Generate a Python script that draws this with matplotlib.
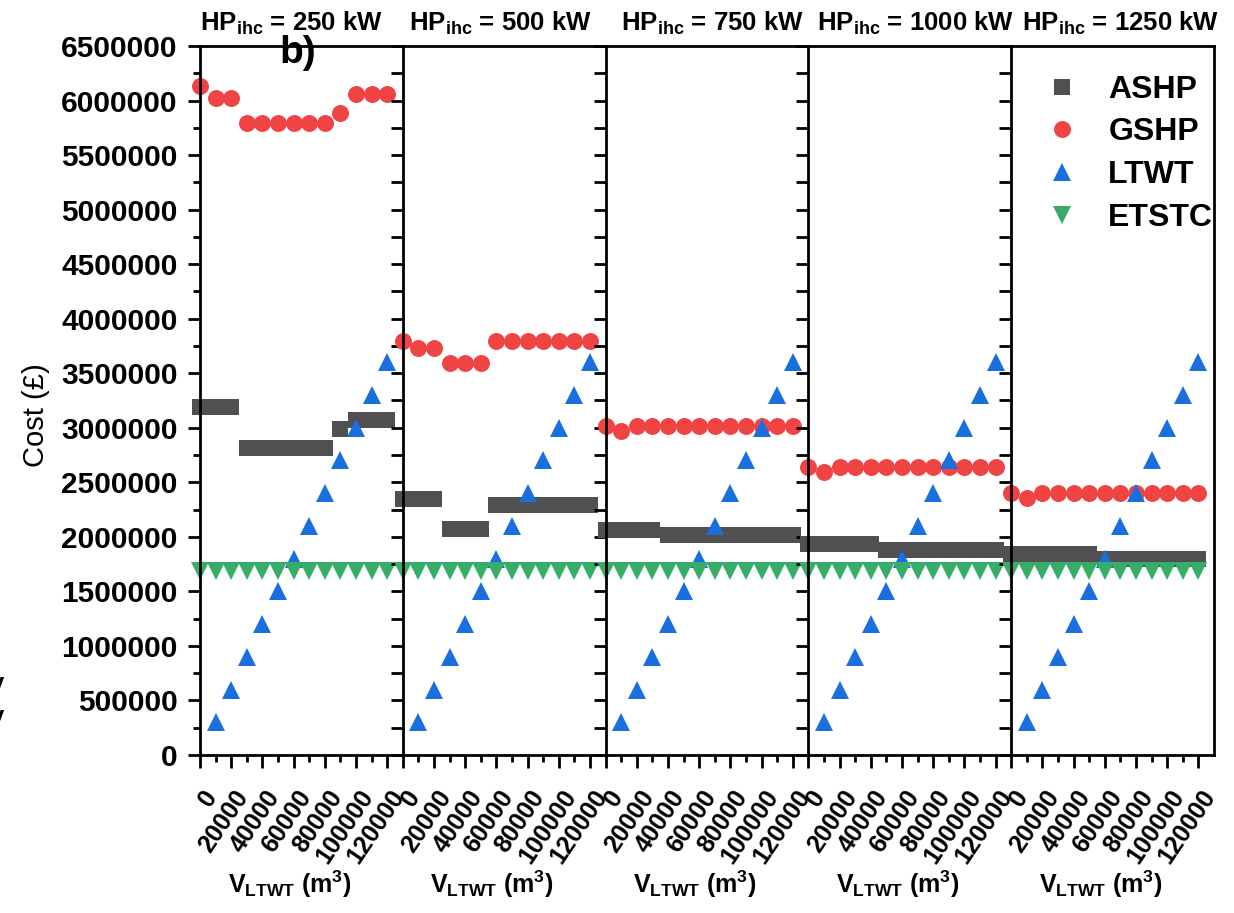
import numpy as np
import matplotlib
matplotlib.use("Agg")
import matplotlib.pyplot as plt
import matplotlib.transforms as mtransforms
from matplotlib.ticker import MultipleLocator, FixedLocator, StrMethodFormatter


plt.rcParams["font.family"] = ["Liberation Sans", "DejaVu Sans"]
plt.rcParams["mathtext.default"] = "regular"

HP_IHC = [250, 500, 750, 1000, 1250]
V_LTWT = [0, 10000, 20000, 30000, 40000, 50000, 60000, 70000, 80000, 90000, 100000, 110000, 120000]
X_TICKS = [0, 20000, 40000, 60000, 80000, 100000, 120000]

# one row per HP_ihc panel
ASHP = [
    [3190000, 3190000, 3190000, 2810000, 2810000, 2810000, 2810000, 2810000, 2810000, 2990000, 3070000, 3070000, 3070000],
    [2350000, 2350000, 2350000, 2070000, 2070000, 2070000, 2290000, 2290000, 2290000, 2290000, 2290000, 2290000, 2290000],
    [2060000, 2060000, 2060000, 2060000, 2020000, 2020000, 2020000, 2020000, 2020000, 2020000, 2020000, 2020000, 2020000],
    [1930000, 1930000, 1930000, 1930000, 1930000, 1880000, 1880000, 1880000, 1880000, 1880000, 1880000, 1880000, 1880000],
    [1845000, 1845000, 1845000, 1845000, 1845000, 1845000, 1800000, 1800000, 1800000, 1800000, 1800000, 1800000, 1800000],
]
GSHP = [
    [6130000, 6020000, 6020000, 5790000, 5790000, 5790000, 5790000, 5790000, 5790000, 5890000, 6060000, 6060000, 6060000],
    [3800000, 3730000, 3730000, 3590000, 3590000, 3590000, 3800000, 3800000, 3800000, 3800000, 3800000, 3800000, 3800000],
    [3020000, 2970000, 3020000, 3020000, 3020000, 3020000, 3020000, 3020000, 3020000, 3020000, 3020000, 3020000, 3020000],
    [2640000, 2590000, 2640000, 2640000, 2640000, 2640000, 2640000, 2640000, 2640000, 2640000, 2640000, 2640000, 2640000],
    [2400000, 2360000, 2400000, 2400000, 2400000, 2400000, 2400000, 2400000, 2400000, 2400000, 2400000, 2400000, 2400000],
]
LTWT = [np.nan, 300000, 600000, 900000, 1200000, 1500000, 1800000, 2100000, 2400000, 2700000, 3000000, 3300000, 3600000]
ETSTC = [1690000, 1690000, 1690000, 1690000, 1690000, 1690000, 1690000, 1690000, 1690000, 1690000, 1690000, 1690000, 1690000]

C_ASHP = "#505050"
C_GSHP = "#f04343"
C_LTWT = "#1a6fdf"
C_ETSTC = "#38ad69"

TITLE_SHIFT = [-10, -4, 5, 6, 8]  # px, titles are not quite centred in the original


def main():
    fig = plt.figure(figsize=(12.34, 9.13), dpi=100)
    left, right = 200 / 1234, 1214 / 1234
    bottom, top = 1 - 755 / 913, 1 - 46 / 913
    w = (right - left) / 5
    wpx = w * 1234
    shift = mtransforms.ScaledTranslation(22 / 100, 0, fig.dpi_scale_trans)

    for i, hp in enumerate(HP_IHC):
        ax = fig.add_axes([left + i * w, bottom, w, top - bottom])
        kw = dict(linestyle="none", markeredgewidth=0, clip_on=False)
        ax.plot(V_LTWT, ASHP[i], marker="s", markersize=11.5, color=C_ASHP, label="ASHP", **kw)
        ax.plot(V_LTWT, GSHP[i], marker="o", markersize=12.2, color=C_GSHP, label="GSHP", **kw)
        ax.plot(V_LTWT, LTWT, marker="^", markersize=13.5, color=C_LTWT, label="LTWT", **kw)
        ax.plot(V_LTWT, ETSTC, marker="v", markersize=13.5, color=C_ETSTC, label="ETSTC", **kw)

        ax.set_xlim(0, 130000)
        ax.set_ylim(0, 6500000)
        for s in ax.spines.values():
            s.set_linewidth(2)
        if i < 4:
            ax.spines["right"].set_visible(False)

        ax.xaxis.set_minor_locator(FixedLocator([10000, 30000, 50000, 70000, 90000, 110000]))
        ax.set_xticks(X_TICKS)
        ax.tick_params(axis="x", which="major", direction="out", length=9, width=2, pad=13)
        ax.tick_params(axis="x", which="minor", direction="out", length=5, width=2)
        ax.set_xticklabels([str(v) for v in X_TICKS], fontsize=18, fontweight="bold",
                           rotation=56, ha="right", va="top")
        for lab in ax.get_xticklabels():
            lab.set_transform(lab.get_transform() + shift)

        if i == 0:
            ax.yaxis.set_major_locator(MultipleLocator(500000))
            ax.yaxis.set_minor_locator(MultipleLocator(250000))
            ax.yaxis.set_major_formatter(StrMethodFormatter("{x:.0f}"))
            ax.tick_params(axis="y", which="major", direction="out", length=9, width=2,
                           pad=7, labelsize=21.5)
            ax.tick_params(axis="y", which="minor", direction="out", length=5, width=2)
            for lab in ax.get_yticklabels():
                lab.set_fontweight("bold")
            ax.set_ylabel("Cost (£)", fontsize=21)
            ax.yaxis.set_label_coords(-150 / wpx, (755 - 415) / 709)
        else:
            ax.yaxis.set_major_locator(MultipleLocator(250000))
            ax.tick_params(axis="y", which="major", direction="out", length=9, width=2,
                           labelleft=False)

        ax.set_title(r"HP$_{ihc}$ = %d kW" % hp, fontsize=18.5, fontweight="bold", pad=11)
        ax.title.set_x(0.5 + TITLE_SHIFT[i] / wpx)
        ax.set_xlabel(r"V$_{LTWT}$ (m$^{3}$)", fontsize=18, fontweight="bold")
        ax.xaxis.set_label_coords(0.5 - 12 / wpx, (755 - 869) / 709)

        if i == 4:
            ax.legend(loc="upper left", bbox_to_anchor=(0.172, 0.9595), frameon=False,
                      prop={"size": 23, "weight": "bold"}, borderpad=0, borderaxespad=0,
                      handlelength=1.0, handletextpad=0.95, labelspacing=0.4)

    fig.text(298 / 1234, 1 - 53 / 913, "b)", fontsize=28, fontweight="bold",
             ha="center", va="center")
    fig.text(-0.006, 1 - 692 / 913, "/", fontsize=22, fontweight="bold", style="italic",
             ha="left", va="center")
    fig.text(-0.006, 1 - 724 / 913, "/", fontsize=22, fontweight="bold", style="italic",
             ha="left", va="center")

    fig.savefig("out.png", dpi=100)
    plt.close(fig)


if __name__ == "__main__":
    main()
